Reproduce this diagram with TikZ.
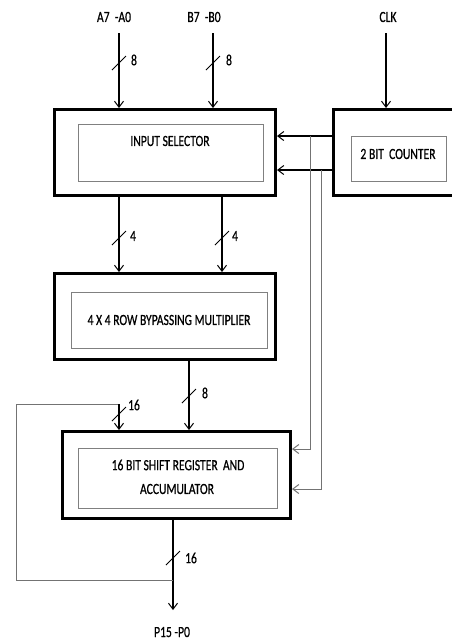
\documentclass[tikz,border=0pt]{standalone}
\usepackage{fontspec}
\setmainfont{Carlito}[FakeStretch=0.75,FakeBold=0.6]
\usetikzlibrary{arrows.meta}
\begin{document}
\begin{tikzpicture}[x=1pt,y=-1pt,
  every node/.style={font=\fontsize{15.5}{18}\selectfont, inner sep=0pt},
  outerbox/.style={draw, line width=3pt, inner sep=0pt},
  innerbox/.style={draw=black!50, line width=0.9pt, inner sep=0pt},
  arr/.style={-{Straight Barb[length=6pt,width=9pt,line width=1pt]}, line width=1.1pt},
  gline/.style={draw=black!55, line width=0.9pt},
  garr/.style={gline, -{Straight Barb[length=6pt,width=9pt,line width=1pt]}},
  slash/.style={line width=1pt}]
\clip (0,0) rectangle (452,643);
\fill[white] (0,0) rectangle (452,643);

% boxes
\node[outerbox, minimum width=221pt, minimum height=86pt] (sel) at (165,152.5) {};
\node[innerbox, minimum width=185pt, minimum height=57pt] (seli) at (170.5,152.5) {};
\node (selt) at (170,141) {INPUT SELECTOR};

\node[outerbox, minimum width=140pt, minimum height=86pt] (cnt) at (403.5,152.5) {};
\node[innerbox, minimum width=95pt, minimum height=45pt] (cnti) at (398.5,158.5) {};
\node (cntt) at (398,154) {2 BIT\ \ COUNTER};

\node[outerbox, minimum width=221pt, minimum height=86pt] (mul) at (165,316.5) {};
\node[innerbox, minimum width=196pt, minimum height=56pt] (muli) at (169,320) {};
\node (mult) at (169,320) {4 X 4 ROW BYPASSING MULTIPLIER};

\node[outerbox, minimum width=228pt, minimum height=87pt] (sr) at (176.5,475) {};
\node[innerbox, minimum width=199pt, minimum height=60pt] (sri) at (177.5,478) {};
\node (srt1) at (178,465) {16 BIT SHIFT REGISTER\ \ AND};
\node (srt2) at (177,489) {ACCUMULATOR};

% input labels
\node (la) at (114,17) {A7\ \ -A0};
\node (lb) at (204,17) {B7\ \ -B0};
\node (lclk) at (388,17) {CLK};
\node[anchor=base] (lp) at (172,637) {P15 -P0};

% top inputs
\coordinate (a0) at (119,33);
\coordinate (b0) at (213,33);
\coordinate (c0) at (386,33);
\draw[arr] (a0) -- (a0 |- sel.north);
\draw[arr] (b0) -- (b0 |- sel.north);
\draw[arr] (c0) -- (c0 |- cnt.north);
\draw[slash] (119,63) ++(-7,7) -- ++(14,-14);
\draw[slash] (213,63) ++(-7,7) -- ++(14,-14);
\node (n8a) at (134,60) {8};
\node (n8b) at (229,60) {8};

% counter to selector
\coordinate (y1) at (0,136);
\coordinate (y2) at (0,170);
\draw[arr] (cnt.west |- y1) -- (sel.east |- y1);
\draw[arr] (cnt.west |- y2) -- (sel.east |- y2);

% counter to shift register
\coordinate (v1) at (310,136);
\coordinate (v2) at (321,170);
\coordinate (h1) at (310,449);
\coordinate (h2) at (321,489);
\draw[garr] (v1) -- (h1) -- (sr.east |- h1);
\draw[garr] (v2) -- (h2) -- (sr.east |- h2);

% selector to multiplier
\coordinate (s1) at (119,0);
\coordinate (s2) at (222,0);
\draw[arr] (s1 |- sel.south) -- (s1 |- mul.north);
\draw[arr] (s2 |- sel.south) -- (s2 |- mul.north);
\draw[slash] (119,238) ++(-7,7) -- ++(14,-14);
\draw[slash] (222,238) ++(-7,7) -- ++(14,-14);
\node (n4a) at (133,236) {4};
\node (n4b) at (235,236) {4};

% multiplier to shift register
\coordinate (m1) at (189,0);
\draw[arr] (m1 |- mul.south) -- (m1 |- sr.north);
\draw[slash] (189,396) ++(-7,7) -- ++(14,-14);
\node (n8c) at (205,393) {8};

% feedback
\coordinate (o1) at (173,0);
\coordinate (fb0) at (173,580);
\coordinate (fb1) at (16,580);
\coordinate (fb2) at (16,404);
\coordinate (fb3) at (119,404);
\coordinate (pout) at (173,610);
\draw[arr] (o1 |- sr.south) -- (pout);
\draw[gline] (fb0) -- (fb1) -- (fb2) -- (fb3);
\draw[arr] (fb3) -- (fb3 |- sr.north);
\draw[slash] (119,414) ++(-7,7) -- ++(14,-14);
\node (n16a) at (134,405) {16};
\draw[slash] (173,558) ++(-7,7) -- ++(14,-14);
\node (n16b) at (191,558) {16};
\end{tikzpicture}
\end{document}
